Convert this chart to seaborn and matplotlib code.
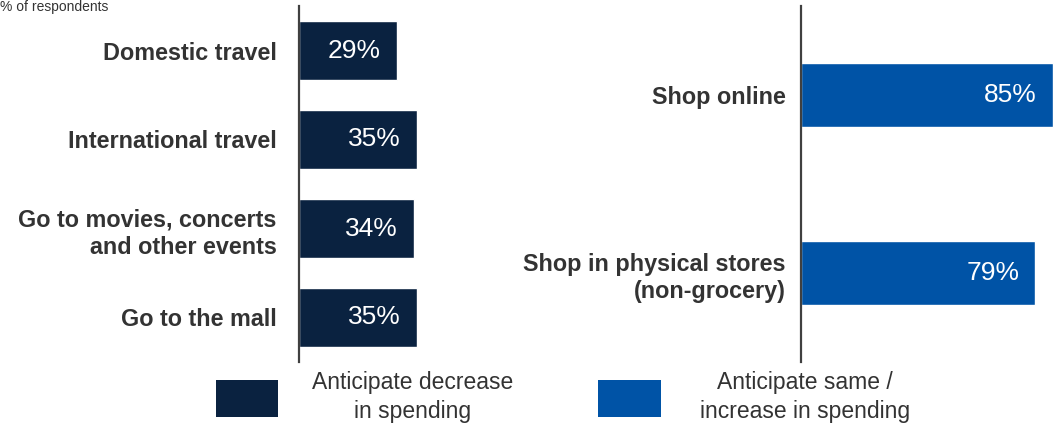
import matplotlib
matplotlib.use("Agg")
import matplotlib.pyplot as plt
import seaborn as sns
import pandas as pd
from matplotlib.patches import Rectangle

sns.set_theme(style="white")
plt.rcParams['font.family'] = ['Liberation Sans', 'DejaVu Sans']

# Data
decrease_categories = ["Domestic travel", "International travel",
                       "Go to movies, concerts\nand other events", "Go to the mall"]
decrease_values = [29, 35, 34, 35]
increase_categories = ["Shop online", "Shop in physical stores\n(non-grocery)"]
increase_values = [85, 79]
legend_labels = ["Anticipate decrease\nin spending", "Anticipate same /\nincrease in spending"]
subtitle = "% of respondents"

DARK = "#0A2240"
BLUE = "#0053A6"
TXT = "#333333"
AX = "#404040"

W, H = 1056, 424
fig = plt.figure(figsize=(W / 100, H / 100), dpi=100)

def box(x0, y0, x1, y1):
    return [x0 / W, 1 - y1 / H, (x1 - x0) / W, (y1 - y0) / H]

df_dec = pd.DataFrame({"cat": decrease_categories, "val": decrease_values})
df_inc = pd.DataFrame({"cat": increase_categories, "val": increase_values})

ax1 = fig.add_axes(box(299, 6, 500, 362))
sns.barplot(data=df_dec, y="cat", x="val", orient="h", color=DARK,
            width=0.674, saturation=1, ax=ax1)
ax1.set_xlim(0, 59.6)

ax2 = fig.add_axes(box(801, 6, 1056, 362))
sns.barplot(data=df_inc, y="cat", x="val", orient="h", color=BLUE,
            width=0.36, saturation=1, ax=ax2)
ax2.set_xlim(0, 86)

for ax, vals in ((ax1, decrease_values), (ax2, increase_values)):
    ax.set_xlabel("")
    ax.set_ylabel("")
    ax.set_xticks([])
    for s in ("top", "right", "bottom"):
        ax.spines[s].set_visible(False)
    ax.spines["left"].set_color(AX)
    ax.spines["left"].set_linewidth(1.6)
    ax.tick_params(axis="y", length=0)
    for lbl in ax.get_yticklabels():
        lbl.set_fontsize(16.8)
        lbl.set_fontweight("bold")
        lbl.set_color(TXT)
        lbl.set_horizontalalignment("right")
        lbl.set_multialignment("right")
        lbl.set_linespacing(1.25)
    for i, v in enumerate(vals):
        ax.annotate(f"{v}%", xy=(v, i), xytext=(-11.5, 0), textcoords="offset points",
                    ha="right", va="center", color="white", fontsize=19)
    ax.patch.set_alpha(0)

ax1.tick_params(axis="y", pad=16)
ax2.tick_params(axis="y", pad=11)

# Legend
for (x0, x1, tx), col, lab in zip(((216, 278, 413), (598, 661, 805)), (DARK, BLUE), legend_labels):
    fig.patches.append(Rectangle((x0 / W, 1 - 417 / H), (x1 - x0) / W, 37 / H,
                                 transform=fig.transFigure, facecolor=col, edgecolor="none"))
    fig.text(tx / W, 1 - 397 / H, lab, ha="center", va="center", multialignment="center",
             fontsize=16.5, color=TXT, linespacing=1.3)

fig.text(0.0, 1.0, subtitle, ha="left", va="top", fontsize=10, color=TXT)

fig.savefig("out.png", dpi=100)
